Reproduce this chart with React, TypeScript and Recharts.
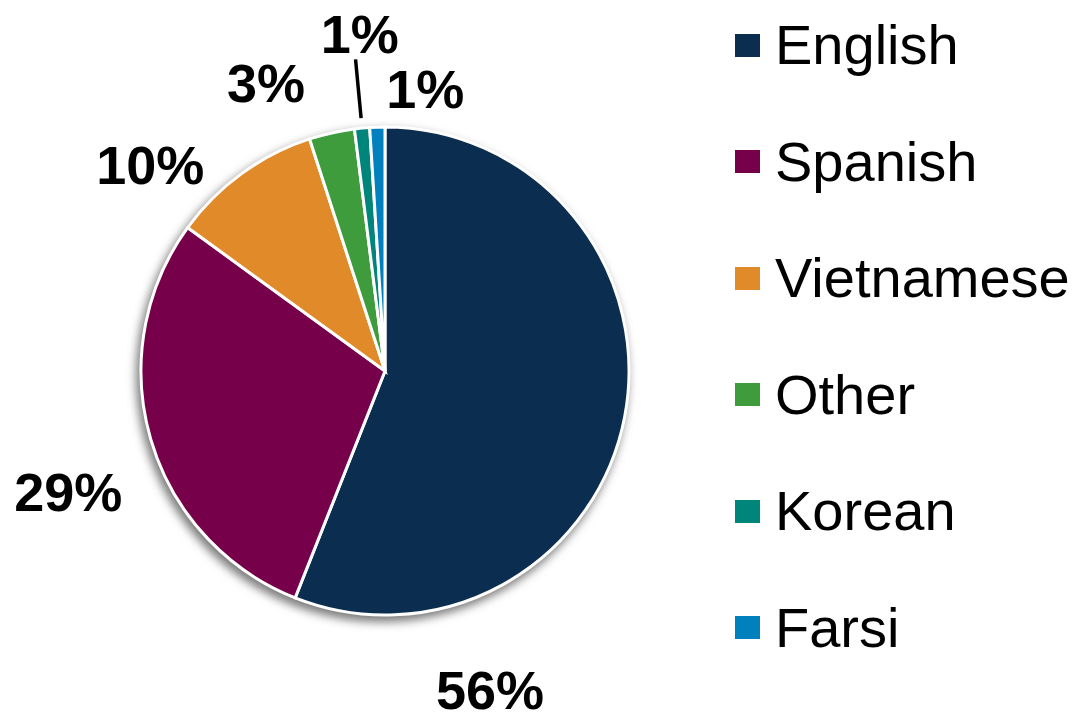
import React from 'react';
import { PieChart, Pie, Cell, Legend } from 'recharts';

const categories = ['English', 'Spanish', 'Vietnamese', 'Other', 'Korean', 'Farsi'];
const shares = [56, 29, 10, 3, 1, 1];
const sliceColors = ['#0B2D4F', '#76004A', '#E08A2A', '#3F9C3D', '#00857A', '#0081BD'];

const data = categories.map((name, i) => ({ name, value: shares[i] }));
const shadowData = [{ name: 'all', value: shares.reduce((a, b) => a + b, 0) }];

// label layout tweaks (clockwise angle shift in degrees, gap beyond outer radius in px)
const labelAngleShift = [61, -4.7, -12.8, -9.8, 1.1, 9.9];
const labelRadiusGap = [92, 95, 68, 68, 94, 41];
const leaderLineIndex = 4;

const FONT = '"Liberation Sans", Arial, Helvetica, sans-serif';
const RAD = Math.PI / 180;

const renderLabel = (props: any) => {
  const { cx, cy, midAngle, outerRadius, index, percent } = props;
  const a = (midAngle - labelAngleShift[index]) * RAD;
  const r = outerRadius + labelRadiusGap[index];
  const x = cx + r * Math.cos(a);
  const y = cy - r * Math.sin(a);
  let leader = null;
  if (index === leaderLineIndex) {
    const m = midAngle * RAD;
    const r1 = outerRadius + 10;
    const r2 = outerRadius + 69;
    leader = (
      <line
        x1={cx + r1 * Math.cos(m)}
        y1={cy - r1 * Math.sin(m)}
        x2={cx + r2 * Math.cos(m)}
        y2={cy - r2 * Math.sin(m)}
        stroke="#000"
        strokeWidth={3.5}
      />
    );
  }
  return (
    <g>
      {leader}
      <text
        x={x}
        y={y}
        textAnchor="middle"
        dominantBaseline="central"
        fill="#000"
        fontFamily={FONT}
        fontWeight="bold"
        fontSize={54}
      >
        {`${Math.round(percent * 100)}%`}
      </text>
    </g>
  );
};

const renderLegend = (props: any) => {
  const items = (props.payload || []).filter((p: any) => p.type !== 'none');
  items.sort((a: any, b: any) => categories.indexOf(a.value) - categories.indexOf(b.value));
  return (
    <div style={{ fontFamily: FONT }}>
      {items.map((p: any, i: number) => (
        <div key={i} style={{ height: 116.5, display: 'flex', alignItems: 'center' }}>
          <div style={{ width: 25, height: 23, background: p.color, marginRight: 15 }} />
          <span style={{ fontSize: 56, color: '#000', lineHeight: 1 }}>{p.value}</span>
        </div>
      ))}
    </div>
  );
};

export default function App() {
  return (
    <div style={{ position: 'fixed', left: 0, top: 0, width: 1081, height: 719, background: '#fff' }}>
      <PieChart width={1081} height={719} margin={{ top: 0, right: 0, bottom: 0, left: 0 }}>
        <defs>
          <filter id="pieShadow" x="-20%" y="-20%" width="140%" height="140%">
            <feGaussianBlur stdDeviation="5" />
          </filter>
        </defs>
        <Pie
          data={shadowData}
          dataKey="value"
          cx={382}
          cy={376}
          outerRadius={246}
          startAngle={90}
          endAngle={-270}
          stroke="none"
          legendType="none"
          isAnimationActive={false}
          label={false}
        >
          <Cell fill="#7a7a7a" filter="url(#pieShadow)" />
        </Pie>
        <Pie
          data={data}
          dataKey="value"
          nameKey="name"
          cx={385}
          cy={371}
          outerRadius={244}
          startAngle={90}
          endAngle={-270}
          stroke="#ffffff"
          strokeWidth={3}
          labelLine={false}
          label={renderLabel}
          isAnimationActive={false}
        >
          {data.map((d, i) => (
            <Cell key={d.name} fill={sliceColors[i]} />
          ))}
        </Pie>
        <Legend
          layout="vertical"
          verticalAlign="top"
          align="right"
          itemSorter={null}
          content={renderLegend}
          wrapperStyle={{ top: -13, left: 735, width: 346 }}
        />
      </PieChart>
    </div>
  );
}
